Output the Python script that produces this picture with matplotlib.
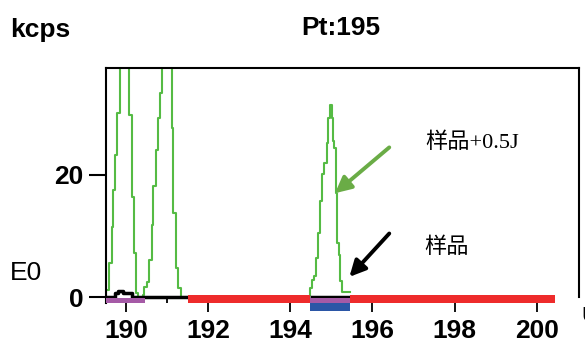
import matplotlib
matplotlib.use('Agg')
import matplotlib.pyplot as plt

plt.rcParams['font.family'] = ['Liberation Sans', 'DejaVu Sans']

# 样品+0.5J 的三个峰（阶梯，x 为台阶起点，y 为台阶高度，kcps）
peak1_x = [189.50, 189.52, 189.594, 189.652, 189.691, 189.732, 189.788, 189.854,
           190.080, 190.139, 190.195, 190.243, 190.292]
peak1_y = [0.0, 1.1, 5.5, 11.5, 17.5, 23.3, 30.1, 48.0, 29.8, 16.4, 7.2, 0.6, 0.0]

peak2_x = [190.40, 190.421, 190.445, 190.504, 190.567, 190.626, 190.665, 190.730,
           190.786, 190.828, 190.884, 191.113, 191.149, 191.217, 191.273, 191.332, 191.50]
peak2_y = [0.0, 0.4, 1.7, 2.5, 6.1, 11.8, 18.1, 24.1, 29.3, 33.4, 48.0, 27.6, 13.7,
           4.7, 1.4, 0.0, 0.0]

peak3_x = [194.47, 194.480, 194.536, 194.585, 194.626, 194.668, 194.724, 194.780,
           194.828, 194.887, 194.926, 194.967, 195.009, 195.033, 195.072, 195.113,
           195.145, 195.186, 195.218, 195.267, 195.454]
peak3_y = [0.3, 1.5, 2.8, 3.4, 6.4, 10.5, 15.7, 20.1, 22.0, 25.2, 29.3, 31.5, 29.3,
           25.5, 24.4, 17.0, 8.9, 6.9, 2.6, 0.9, 0.9]

# 样品（黑线）
sample1_x = [189.51, 189.732, 189.813, 189.934, 190.139, 191.51]
sample1_y = [0.0, 0.6, 1.0, 0.6, 0.0, 0.0]
sample2_x = [194.48, 195.45]
sample2_y = [0.0, 0.0]

# 横轴下方的区间条 (start, end)
purple_ranges = [(189.51, 190.46), (194.48, 195.45)]
blue_ranges = [(194.48, 195.45)]
red_ranges = [(191.51, 194.48), (195.45, 200.45)]

xticks = [190, 192, 194, 196, 198, 200]
yticks = [0, 20]

fig = plt.figure(figsize=(5.85, 3.42), dpi=100)
ax = fig.add_axes([106 / 585, (342 - 303) / 342, (579 - 106) / 585, (303 - 68) / 342])

green = '#55bb44'
ax.step(peak1_x, peak1_y, where='post', color=green, lw=1.5, zorder=2)
ax.step(peak2_x, peak2_y, where='post', color=green, lw=1.5, zorder=2)
ax.step(peak3_x, peak3_y, where='post', color=green, lw=1.5, zorder=2)

ax.step(sample1_x, sample1_y, where='post', color='black', lw=2.5, zorder=3,
        clip_on=False, solid_capstyle='butt')
ax.plot(sample2_x, sample2_y, color='black', lw=2.5, zorder=3, clip_on=False,
        solid_capstyle='butt')


def bars(ranges, y0, h, color):
    ax.broken_barh([(a, b - a) for a, b in ranges], (y0, h), facecolors=color,
                   zorder=4, clip_on=False)


bars(red_ranges, -0.98, 1.31, '#ee2b2b')
bars(purple_ranges, -0.98, 0.82, '#a55aa6')
bars(blue_ranges, -2.30, 1.32, '#2b56a6')

ax.set_xlim(189.513, 201.03)
ax.set_ylim(-0.98, 37.5)

ax.spines['bottom'].set_visible(False)
for s in ['left', 'top', 'right']:
    ax.spines[s].set_linewidth(1.5)
ax.spines['right'].set_bounds(0, 37.5)

ax.set_xticks(xticks)
ax.set_xticks([191], minor=True)
ax.set_yticks(yticks)
ax.tick_params(axis='x', which='major', direction='out', length=6.5, width=1.3,
               pad=5, labelsize=19)
ax.tick_params(axis='x', which='minor', direction='in', length=3.6, width=1.3)
ax.tick_params(axis='y', direction='out', length=12, width=1.5, pad=4.3, labelsize=19)
for lab in ax.get_xticklabels() + ax.get_yticklabels():
    lab.set_fontweight('bold')

# 箭头与标注
ax.annotate('', xy=(195.09, 17.0), xytext=(196.41, 24.5),
            arrowprops=dict(arrowstyle='-|>', color='#6aac46', lw=2.8,
                            mutation_scale=24, shrinkA=0, shrinkB=0))
ax.annotate('', xy=(195.44, 3.3), xytext=(196.41, 10.4),
            arrowprops=dict(arrowstyle='-|>', color='black', lw=2.8,
                            mutation_scale=24, shrinkA=0, shrinkB=0))
cjk = ['Liberation Serif', 'Noto Sans CJK SC']
ax.text(197.30, 25.2, '样品+0.5J', family=cjk, fontsize=16, ha='left', va='center')
ax.text(197.26, 8.0, '样品', family=cjk, fontsize=16, ha='left', va='center')

fig.text(10 / 585, (342 - 37) / 342, 'kcps', fontsize=19, fontweight='bold',
         ha='left', va='baseline')
fig.text(341 / 585, (342 - 35) / 342, 'Pt:195', fontsize=19, fontweight='bold',
         ha='center', va='baseline')
fig.text(10 / 585, (342 - 280) / 342, 'E0', fontsize=19, ha='left', va='baseline')
fig.text(581 / 585, (342 - 321) / 342, 'u', fontsize=19, fontweight='bold',
         ha='left', va='baseline')

fig.savefig('out.png', dpi=100)
